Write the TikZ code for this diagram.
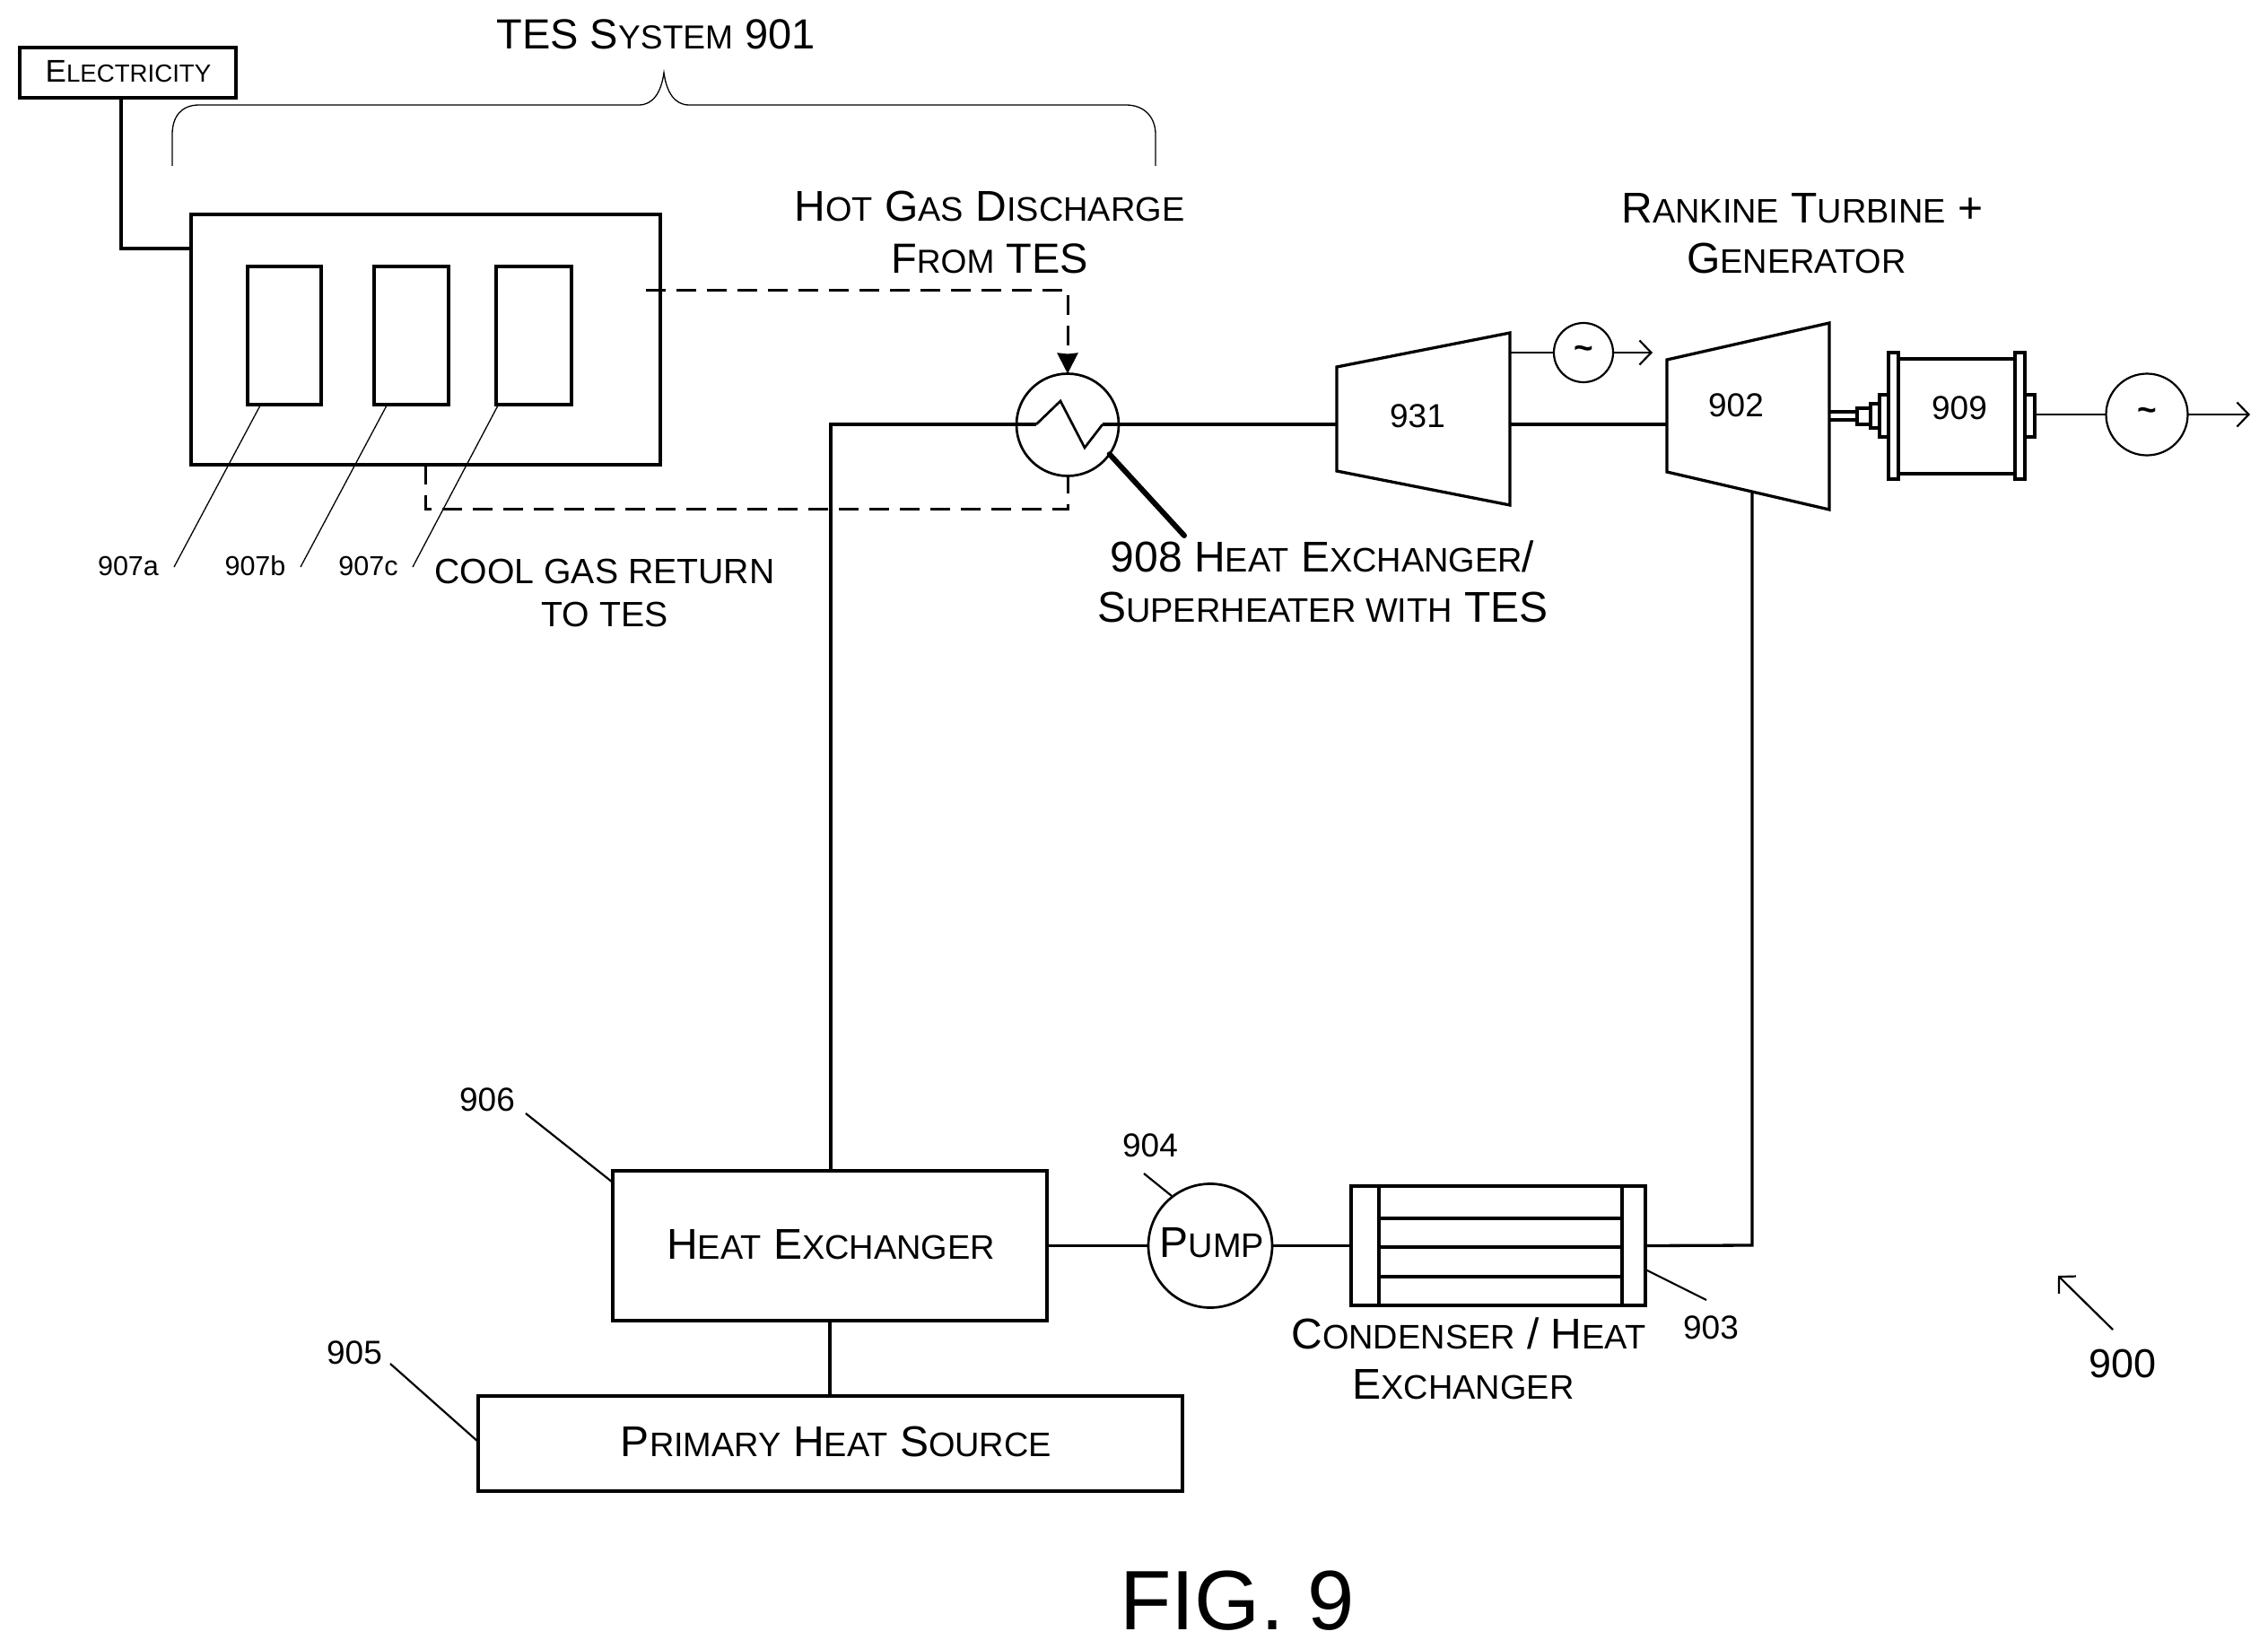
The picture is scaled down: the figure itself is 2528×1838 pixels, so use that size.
\documentclass[tikz,border=0pt]{standalone}
\usepackage{fontspec}
\setmainfont{Liberation Sans}
\usetikzlibrary{arrows.meta}
\makeatletter
\newcommand\smc[1]{{\fontsize{\fpeval{0.79*\f@size}}{0}\selectfont #1}}
\makeatother
\tikzset{
  x=1pt,y=-1pt,
  every node/.style={inner sep=0pt,outer sep=0pt},
  main/.style={line width=3.3pt,line join=miter,black},
  medline/.style={line width=2.7pt,black},
  fineline/.style={line width=2.2pt,black},
  hairline/.style={line width=1.3pt,black},
  box/.style={draw,line width=3.5pt},
  round/.style={draw,circle},
  dashline/.style={line width=3pt,dash pattern=on 22pt off 12pt},
  barb/.style={-{Straight Barb[length=13pt,width=27pt,line width=2.2pt]}},
  lbl/.style={anchor=base,font=\fontsize{48}{56}\selectfont},
  lblnarrow/.style={anchor=base,font=\fontsize{47}{56}\selectfont},
  lblcool/.style={anchor=base,font=\fontsize{39.2}{48}\selectfont},
  lblelec/.style={anchor=base,font=\fontsize{35}{44}\selectfont},
  num/.style={anchor=base,font=\fontsize{37}{44}\selectfont},
  numsmall/.style={anchor=base,font=\fontsize{30.5}{36}\selectfont},
  numbig/.style={anchor=base,font=\fontsize{45}{54}\selectfont},
  figlbl/.style={anchor=base,font=\fontsize{94}{110}\selectfont},
  wave/.style={font=\fontsize{37}{44}\selectfont\bfseries},
}
\begin{document}
\begin{tikzpicture}
\useasboundingbox (0,0) rectangle (2528,1838);
% --- blocks
\node[box,line width=4pt,minimum width=241pt,minimum height=56pt] (elec) at (142.5,81) {};
\node[box,minimum width=523pt,minimum height=279pt] (tes) at (474.5,378.5) {};
\node[box,minimum width=82pt,minimum height=154pt] (cella) at (317,374) {};
\node[box,minimum width=83pt,minimum height=154pt] (cellb) at (458.5,374) {};
\node[box,minimum width=84pt,minimum height=154pt] (cellc) at (595,374) {};
\node[box,minimum width=484pt,minimum height=167pt] (hxb) at (925,1388.5) {};
\node[box,minimum width=785pt,minimum height=106pt] (src) at (925.5,1609) {};
\node[round,medline,minimum size=138pt] (pump) at (1349,1388.5) {};
\node[box,minimum width=328pt,minimum height=133pt] (cond) at (1670,1388.5) {};
\node[round,medline,minimum size=114pt] (hxc) at (1190,473.5) {};
\node[round,fineline,minimum size=66pt] (gena) at (1765,393) {};
\node[round,fineline,minimum size=91pt] (genb) at (2393,462) {};
% --- named points
\coordinate (ebus) at (135,277);
\coordinate (riser) at (926,473);
\coordinate (hotstart) at (720,323);
\coordinate (hotbend) at (1190,323);
\coordinate (coolstart) at (474,518);
\coordinate (coolbend) at (474,567);
\coordinate (coolend) at (1190,567);
\coordinate (zigin) at (1155,473);
\coordinate (zigout) at (1229,473);
\coordinate (tza) at (1490,473);
\coordinate (tzb) at (1683,473);
\coordinate (tzc) at (1858,473);
\coordinate (tgen) at (1683,393);
\coordinate (arra) at (1842,393);
\coordinate (arrb) at (2508,462);
\coordinate (retbot) at (1953,1388);
\coordinate (rettop) at (1953,547);
\coordinate (lead908) at (1320,597);
% --- turbines
\draw[main] (1490,409) -- (1683,371) -- (1683,563) -- (1490,525) -- cycle;
\draw[main] (1858,401) -- (2039,360) -- (2039,568) -- (1858,526) -- cycle;
% --- generator 909 drawing
\draw[line width=3.4pt] (2039,459) -- (2070,459) (2039,468) -- (2070,468);
\draw[line width=3.4pt] (2070,455) rectangle (2085,473);
\draw[line width=3.4pt] (2085,450) rectangle (2095,477);
\draw[line width=3.4pt] (2095,440) rectangle (2105,487);
\draw[line width=3.4pt] (2105,393) rectangle (2116,534);
\draw[line width=3.4pt] (2116,400) -- (2246,400) (2116,528) -- (2246,528);
\draw[line width=3.4pt] (2246,393) rectangle (2257,534);
\draw[line width=3.4pt] (2257,440) rectangle (2268,487);
\coordinate (genout) at (2268,462);
% --- condenser interior
\draw[main] (1537,1322) -- (1537,1455) (1808,1322) -- (1808,1455);
\draw[main] (1537,1358) -- (1808,1358) (1537,1390) -- (1808,1390) (1537,1423) -- (1808,1423);
% --- connectors
\draw[main] (ebus |- elec.south) -- (ebus) -- (ebus -| tes.west);
\draw[main] (riser |- hxb.north) -- (riser) -- (zigin);
\draw[medline,line join=miter] (zigin) -- (1182,447) -- (1209,499) -- (zigout);
\draw[main] (zigout) -- (tza);
\draw[main] (tzb) -- (tzc);
\draw[main] (hxb.south) -- (hxb.south |- src.north);
\draw[main] (hxb.east) -- (pump.west);
\draw[main] (pump.east) -- (cond.west);
\draw[main] (cond.east) -- (retbot) -- (rettop);
\draw[fineline] (tgen) -- (gena.west);
\draw[fineline,barb] (gena.east) -- (arra);
\draw[fineline] (genout) -- (genb.west);
\draw[fineline,barb] (genb.east) -- (arrb);
\draw[dashline,-{Stealth[length=23pt,width=23pt,inset=1pt]}] (hotstart) -- (hotbend) -- (hxc.north);
\draw[dashline] (coolstart) -- (coolbend) -- (coolend) -- (hxc.south);
\draw[line width=6pt,line cap=round] (hxc.-35) -- (lead908);
% --- brace
\coordinate (bracetip) at (740,81);
\draw[hairline] (192,185) -- (192,150) .. controls (192,130) and (202,117) .. (222,117) -- (712,117) .. controls (728,117) and (737,103) .. (bracetip) .. controls (743,103) and (752,117) .. (768,117) -- (1255,117) .. controls (1275,117) and (1288,130) .. (1288,150) -- (1288,185);
% --- leaders
\draw[hairline] (290,452) -- (194,632);
\draw[hairline] (431,452) -- (335,632);
\draw[hairline] (555,452) -- (460,632);
\draw[fineline] (586,1241) -- (683,1318);
\draw[fineline] (435,1520) -- (533,1607);
\draw[fineline] (1275,1308) -- (1306,1333);
\draw[fineline] (1834,1415) -- (1902,1449);
\coordinate (arrow900tail) at (2355,1482);
\coordinate (arrow900tip) at (2294,1422);
\draw[fineline,barb] (arrow900tail) -- (arrow900tip);
% --- labels
\node[lblelec] (tElec) at (143,92) {E\smc{LECTRICITY}};
\node[lblnarrow] (tTes) at (731,55) {TES S\smc{YSTEM} 901};
\node[lbl] (tHotA) at (1103,247) {H\smc{OT} G\smc{AS} D\smc{ISCHARGE}};
\node[lblnarrow] (tHotB) at (1103,304) {F\smc{ROM} TES};
\node[lbl] (tRanA) at (2009,248) {R\smc{ANKINE} T\smc{URBINE} +};
\node[lbl] (tRanB) at (2002.5,304) {G\smc{ENERATOR}};
\node[lbl] (tSupA) at (1474,637) {908 H\smc{EAT} E\smc{XCHANGER}/};
\node[lbl] (tSupB) at (1474.5,693) {S\smc{UPERHEATER WITH} TES};
\node[lblcool] (tCoolA) at (674,650) {COOL GAS RETURN};
\node[lblcool] (tCoolB) at (674,698) {TO TES};
\node[lbl] (tPump) at (1351,1401) {P\smc{UMP}};
\node[lbl] (tCondA) at (1637,1503) {C\smc{ONDENSER} / H\smc{EAT}};
\node[lbl] (tCondB) at (1631,1559) {E\smc{XCHANGER}};
\node[lbl] (tHx) at (926,1403) {H\smc{EAT} E\smc{XCHANGER}};
\node[lbl] (tSrc) at (932,1623) {P\smc{RIMARY} H\smc{EAT} S\smc{OURCE}};
\node[num] (n931) at (1580,476) {931};
\node[num] (n902) at (1935,464) {902};
\node[num] (n909) at (2184,467) {909};
\node[num] (n903) at (1907,1492) {903};
\node[num] (n904) at (1282,1289) {904};
\node[num] (n905) at (395,1520) {905};
\node[num] (n906) at (543,1238) {906};
\node[numsmall] (n907a) at (143,641) {907a};
\node[numsmall] (n907b) at (284.5,641) {907b};
\node[numsmall] (n907c) at (410.5,641) {907c};
\node[numbig] (n900) at (2366,1535) {900};
\node[figlbl] (tFig) at (1379,1816) {FIG. 9};
\node[wave] (wa) at (gena) {\textasciitilde};
\node[wave] (wb) at (genb) {\textasciitilde};
\end{tikzpicture}
\end{document}
